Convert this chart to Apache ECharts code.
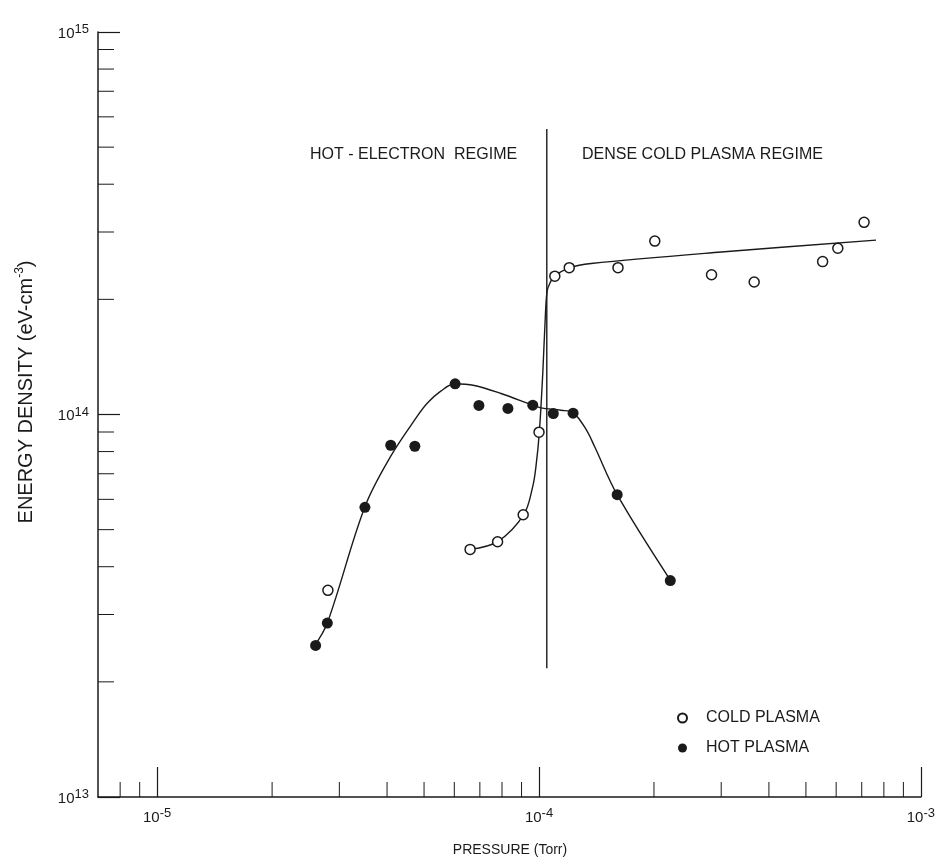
<!DOCTYPE html>
<html><head><meta charset="utf-8">
<script src="https://cdn.jsdelivr.net/npm/echarts@6/dist/echarts.min.js"></script>
<style>html,body{margin:0;padding:0;background:#fff}#c{width:938px;height:859px}</style>
</head><body><div id="c"></div>
<script>
// ---- data ----
const coldX = [2.80e-5, 6.60e-5, 7.79e-5, 9.09e-5, 1.0e-4, 1.10e-4, 1.20e-4, 1.61e-4, 2.01e-4, 2.83e-4, 3.66e-4, 5.53e-4, 6.06e-4, 7.10e-4];
const coldY = [3.47e13, 4.44e13, 4.65e13, 5.47e13, 8.99e13, 2.30e14, 2.42e14, 2.42e14, 2.84e14, 2.32e14, 2.22e14, 2.51e14, 2.72e14, 3.18e14];
const hotX = [2.60e-5, 2.79e-5, 3.50e-5, 4.09e-5, 4.73e-5, 6.03e-5, 6.96e-5, 8.29e-5, 9.63e-5, 1.09e-4, 1.228e-4, 1.602e-4, 2.207e-4];
const hotY = [2.49e13, 2.85e13, 5.72e13, 8.31e13, 8.26e13, 1.203e14, 1.056e14, 1.037e14, 1.058e14, 1.006e14, 1.008e14, 6.17e13, 3.68e13];
// hand-drawn fit curves
const coldCurveX = [6.60e-5, 7.79e-5, 9.12e-5, 9.63e-5, 9.82e-5, 1.002e-4, 1.023e-4, 1.037e-4, 1.050e-4, 1.071e-4, 1.097e-4, 1.201e-4, 1.369e-4, 3.0e-4, 7.63e-4];
const coldCurveY = [4.44e13, 4.65e13, 5.47e13, 6.49e13, 7.33e13, 8.99e13, 1.285e14, 1.737e14, 2.101e14, 2.218e14, 2.300e14, 2.418e14, 2.482e14, 2.66e14, 2.856e14];
const hotCurveX = [2.58e-5, 2.79e-5, 3.50e-5, 4.09e-5, 4.80e-5, 5.11e-5, 5.53e-5, 6.02e-5, 6.77e-5, 7.95e-5, 9.63e-5, 1.012e-4, 1.142e-4, 1.230e-4, 1.328e-4, 1.397e-4, 1.602e-4, 2.211e-4];
const hotCurveY = [2.48e13, 2.85e13, 5.74e13, 7.78e13, 9.90e13, 1.073e14, 1.151e14, 1.203e14, 1.191e14, 1.135e14, 1.058e14, 1.041e14, 1.026e14, 1.010e14, 9.14e13, 8.26e13, 6.17e13, 3.68e13];
// regime divider
const dividerX = [1.048e-4, 1.048e-4];
const dividerY = [2.17e13, 5.58e14];
// axes
const xMin = 7e-6, xMax = 1e-3;
const yMin = 1e13, yMax = 1e15;
const xMinorTicks = [8e-6, 9e-6, 2e-5, 3e-5, 4e-5, 5e-5, 6e-5, 7e-5, 8e-5, 9e-5, 2e-4, 3e-4, 4e-4, 5e-4, 6e-4, 7e-4, 8e-4, 9e-4];
const yMinorTicks = [2e13, 3e13, 4e13, 5e13, 6e13, 7e13, 8e13, 9e13, 2e14, 3e14, 4e14, 5e14, 6e14, 7e14, 8e14, 9e14];
const legendNames = ['COLD PLASMA', 'HOT PLASMA'];
const regimeLabels = ['HOT - ELECTRON  REGIME', 'DENSE COLD PLASMA REGIME'];
const xTitle = 'PRESSURE (Torr)';

const zip = (a, b) => a.map((v, i) => [v, b[i]]);
const FONT = '"Liberation Sans", Arial, sans-serif';
const INK = '#1a1a1a';

const supRich = {
  b: { fontSize: 15, fontFamily: FONT, color: INK, lineHeight: 18, verticalAlign: 'bottom' },
  s: { fontSize: 13, fontFamily: FONT, color: INK, lineHeight: 10, verticalAlign: 'top' }
};
const supLabel = v => '{b|10}{s|' + Math.round(Math.log10(v)) + '}';

const chart = echarts.init(document.getElementById('c'), null, { renderer: 'canvas' });

function tickSeries(values, horizontal, len) {
  return {
    type: 'custom', silent: true, z: 5, clip: false,
    data: values.map(v => horizontal ? [xMin, v] : [v, yMin]),
    encode: { x: 0, y: 1 },
    renderItem: (params, api) => {
      const p = api.coord([api.value(0), api.value(1)]);
      const shape = horizontal
        ? { x1: p[0], y1: p[1], x2: p[0] + len, y2: p[1] }
        : { x1: p[0], y1: p[1], x2: p[0], y2: p[1] - len };
      return { type: 'line', shape, style: { stroke: INK, lineWidth: 1 } };
    }
  };
}

chart.setOption({
  animation: false,
  backgroundColor: '#fff',
  grid: { left: 98, right: 17, top: 32, bottom: 62, containLabel: false },
  xAxis: {
    type: 'log', logBase: 10, min: xMin, max: xMax,
    axisLine: { lineStyle: { color: INK, width: 1.5 } },
    axisTick: { inside: true, length: 30, lineStyle: { color: INK, width: 1.2 } },
    minorTick: { show: false },
    splitLine: { show: false },
    axisLabel: { formatter: supLabel, rich: supRich, margin: 10, showMinLabel: false }
  },
  yAxis: {
    type: 'log', logBase: 10, min: yMin, max: yMax,
    axisLine: { lineStyle: { color: INK, width: 1.5 } },
    axisTick: { inside: true, length: 22, lineStyle: { color: INK, width: 1.2 } },
    minorTick: { show: false },
    splitLine: { show: false },
    axisLabel: { formatter: supLabel, rich: supRich, margin: 9 }
  },
  legend: {
    orient: 'vertical', left: 672, top: 704,
    itemWidth: 9, itemHeight: 9, itemGap: 12,
    textStyle: { fontSize: 16, fontFamily: FONT, color: INK, lineHeight: 18, padding: [0, 0, 0, 14] },
    data: legendNames
  },
  graphic: [
    { type: 'text', x: 310, y: 155, style: { text: regimeLabels[0], font: '16px ' + FONT, fill: INK, align: 'left', verticalAlign: 'middle', textAlign: 'left', textVerticalAlign: 'middle' } },
    { type: 'text', x: 582, y: 155, style: { text: regimeLabels[1], font: '16px ' + FONT, fill: INK, align: 'left', verticalAlign: 'middle', textAlign: 'left', textVerticalAlign: 'middle' } },
    { type: 'text', x: 510, y: 850, style: { text: xTitle, font: '14px ' + FONT, fill: INK, align: 'center', verticalAlign: 'middle', textAlign: 'center', textVerticalAlign: 'middle' } },
    { type: 'text', x: 25, y: 392, rotation: Math.PI / 2,
      style: {
        text: '{a|ENERGY DENSITY (eV-cm}{s|-3}{a|)}',
        rich: {
          a: { fontSize: 20, fontFamily: FONT, fill: INK, color: INK, lineHeight: 22, verticalAlign: 'bottom' },
          s: { fontSize: 12, fontFamily: FONT, fill: INK, color: INK, lineHeight: 10, verticalAlign: 'top' }
        },
        align: 'center', verticalAlign: 'middle', textAlign: 'center', textVerticalAlign: 'middle'
      } }
  ],
  series: [
    tickSeries(xMinorTicks, false, 15),
    tickSeries(yMinorTicks, true, 16),
    { name: 'divider', type: 'line', data: zip(dividerX, dividerY), symbol: 'none', silent: true,
      lineStyle: { color: INK, width: 1.4 }, z: 2 },
    { name: 'hot fit', type: 'line', data: zip(hotCurveX, hotCurveY), symbol: 'none', smooth: 0.35, silent: true,
      lineStyle: { color: INK, width: 1.4 }, z: 2 },
    { name: 'cold fit', type: 'line', data: zip(coldCurveX, coldCurveY), symbol: 'none', smooth: 0.35, silent: true,
      lineStyle: { color: INK, width: 1.4 }, z: 2 },
    { name: legendNames[0], type: 'scatter', data: zip(coldX, coldY), symbol: 'circle', symbolSize: 10,
      itemStyle: { color: '#fff', borderColor: INK, borderWidth: 1.5, opacity: 1 }, z: 4 },
    { name: legendNames[1], type: 'scatter', data: zip(hotX, hotY), symbol: 'circle', symbolSize: 11,
      itemStyle: { color: INK, opacity: 1 }, z: 4 }
  ]
});
</script></body></html>
